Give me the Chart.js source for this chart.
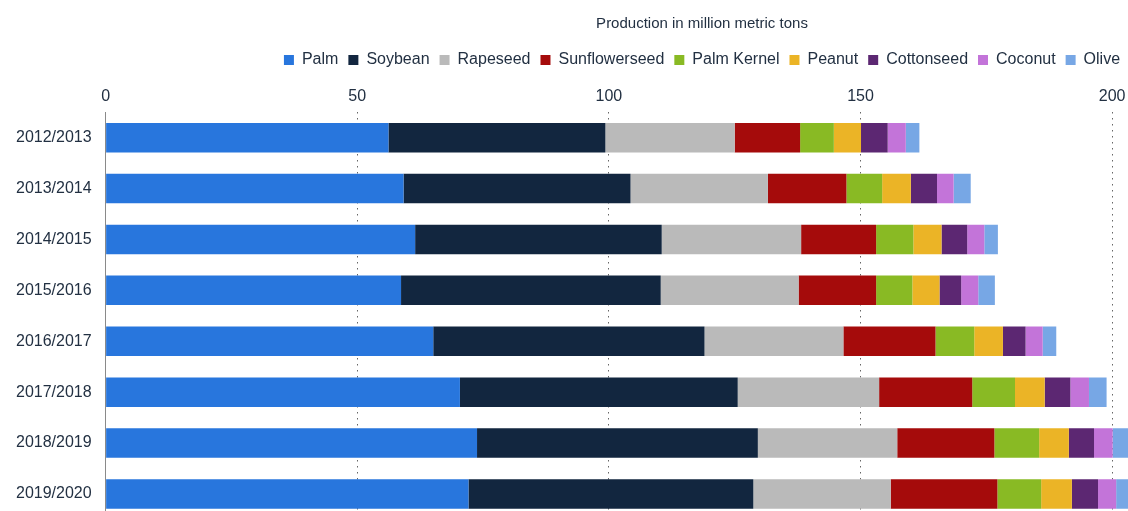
<!DOCTYPE html>
<html>
<head>
<meta charset="utf-8">
<script src="https://cdn.jsdelivr.net/npm/chart.js@4/dist/chart.umd.min.js"></script>
<style>
  html, body { margin: 0; padding: 0; background: #fff; overflow: hidden; }
  #wrap { width: 1128px; height: 511px; overflow: hidden; position: relative; }
  #chart { position: absolute; left: 0; top: 0; }
</style>
</head>
<body>
<div id="wrap"><canvas id="chart" width="1404" height="543"></canvas></div>
<script>
// marketing years
const years = ['2012/2013', '2013/2014', '2014/2015', '2015/2016', '2016/2017', '2017/2018', '2018/2019', '2019/2020'];

// million metric tons
const palm          = [56.2, 59.2, 61.5, 58.7, 65.1, 70.4, 73.8, 72.1];
const soybean       = [43.1, 45.1, 49.0, 51.6, 53.9, 55.2, 55.8, 56.6];
const rapeseed      = [25.7, 27.3, 27.7, 27.4, 27.6, 28.1, 27.7, 27.3];
const sunflowerseed = [13.0, 15.6, 14.9, 15.4, 18.3, 18.5, 19.3, 21.2];
const palmKernel    = [6.7, 7.1, 7.4, 7.2, 7.7, 8.5, 8.9, 8.7];
const peanut        = [5.4, 5.7, 5.6, 5.4, 5.7, 5.9, 5.9, 6.1];
const cottonseed    = [5.3, 5.2, 5.1, 4.3, 4.5, 5.1, 5.0, 5.2];
const coconut       = [3.6, 3.3, 3.4, 3.4, 3.4, 3.7, 3.7, 3.6];
const olive         = [2.7, 3.4, 2.7, 3.3, 2.7, 3.5, 3.2, 3.2];

const textColor = '#223042';

const series = [
  ['Palm', palm, '#2876dd'],
  ['Soybean', soybean, '#12263f'],
  ['Rapeseed', rapeseed, '#bababa'],
  ['Sunflowerseed', sunflowerseed, '#a50b0b'],
  ['Palm Kernel', palmKernel, '#89ba24'],
  ['Peanut', peanut, '#ebb426'],
  ['Cottonseed', cottonseed, '#5c2772'],
  ['Coconut', coconut, '#c374d9'],
  ['Olive', olive, '#77a7e5']
];

Chart.defaults.font.family = '"Liberation Sans", Arial, sans-serif';
Chart.defaults.color = textColor;

// a bit more room under the legend
const legendGap = {
  id: 'legendGap',
  beforeInit(chart) {
    const fit = chart.legend.fit;
    chart.legend.fit = function () {
      fit.call(this);
      this.height += 3;
    };
  }
};

new Chart(document.getElementById('chart'), {
  type: 'bar',
  data: {
    labels: years,
    datasets: series.map(s => ({
      label: s[0],
      data: s[1],
      backgroundColor: s[2],
      borderWidth: 0
    }))
  },
  options: {
    indexAxis: 'y',
    responsive: false,
    animation: false,
    devicePixelRatio: 1,
    layout: { padding: { left: 2, right: 2, top: 0, bottom: 2 } },
    datasets: {
      bar: { categoryPercentage: 1, barPercentage: 0.58 }
    },
    plugins: {
      title: {
        display: true,
        text: 'Production in million metric tons',
        font: { size: 15, weight: 'normal' },
        color: textColor,
        padding: { top: 15, bottom: 9 }
      },
      legend: {
        position: 'top',
        labels: {
          boxWidth: 10,
          boxHeight: 10,
          padding: 10,
          font: { size: 16 },
          color: textColor
        }
      },
      tooltip: { enabled: false }
    },
    scales: {
      x: {
        position: 'top',
        stacked: true,
        min: 0,
        max: 257.6,
        afterBuildTicks: sc => { sc.ticks = sc.ticks.filter(t => t.value % 50 === 0); },
        ticks: { stepSize: 50, font: { size: 16 }, padding: 6, color: textColor },
        grid: { color: '#666', lineWidth: 1, drawTicks: false },
        border: { display: false, dash: [1.5, 4.5] }
      },
      y: {
        stacked: true,
        ticks: { font: { size: 16 }, padding: 14, color: textColor },
        grid: { display: false, drawTicks: false },
        border: { display: true, color: '#8a8a8a', width: 1 }
      }
    }
  },
  plugins: [legendGap]
});
</script>
</body>
</html>
